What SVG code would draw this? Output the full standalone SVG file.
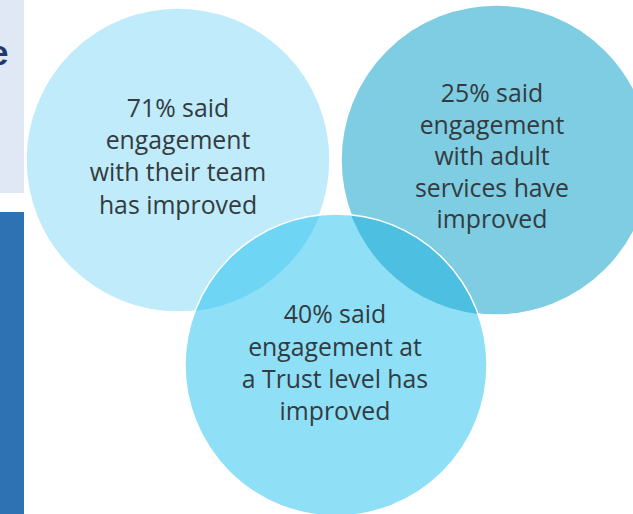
<svg xmlns="http://www.w3.org/2000/svg" width="633" height="514" viewBox="0 0 633 514">
<style>
.lbl{font-family:"Open Sans","Liberation Sans",sans-serif;font-size:24.8px;fill:#333b40;text-anchor:middle}
.edge{stroke:#ffffff;stroke-width:1.5}
</style>
<defs>
<clipPath id="c3"><circle cx="336" cy="365" r="151"/></clipPath>
</defs>
<rect width="633" height="514" fill="#ffffff"/>
<g id="side-panel">
<rect x="0" y="0" width="24" height="193" fill="#dfe8f4"/>
<text x="-11" y="65" font-family="Liberation Sans,sans-serif" font-weight="bold" font-size="35" fill="#1f3a6e">e</text>
<rect x="0" y="212" width="24" height="302" fill="#2e72b4"/>
</g>
<g id="circle-team">
<circle cx="178" cy="160" r="152" fill="#bfebfa" class="edge"/>
</g>
<g id="circle-adult">
<circle cx="496" cy="160" r="155" fill="#7ecde2" class="edge"/>
</g>
<g id="circle-trust">
<circle cx="336" cy="365" r="151" fill="#8fe0f7"/>
<g clip-path="url(#c3)">
<circle cx="178" cy="160" r="152" fill="#6fd5f4"/>
<circle cx="496" cy="160" r="155" fill="#4dbfe0"/>
</g>
<circle cx="336" cy="365" r="151" fill="none" class="edge"/>
</g>
<g id="labels">
<text class="lbl" x="178"><tspan x="178" y="117">71% said</tspan><tspan x="178" y="149">engagement</tspan><tspan x="178" y="181">with their team</tspan><tspan x="178" y="214">has improved</tspan></text>
<text class="lbl" x="492"><tspan x="492" y="102">25% said</tspan><tspan x="492" y="134">engagement</tspan><tspan x="492" y="165">with adult</tspan><tspan x="492" y="197">services have</tspan><tspan x="492" y="228">improved</tspan></text>
<text class="lbl" x="335"><tspan x="335" y="323">40% said</tspan><tspan x="335" y="356">engagement  at</tspan><tspan x="335" y="388">a Trust level has</tspan><tspan x="335" y="420">improved</tspan></text>
</g>
</svg>
